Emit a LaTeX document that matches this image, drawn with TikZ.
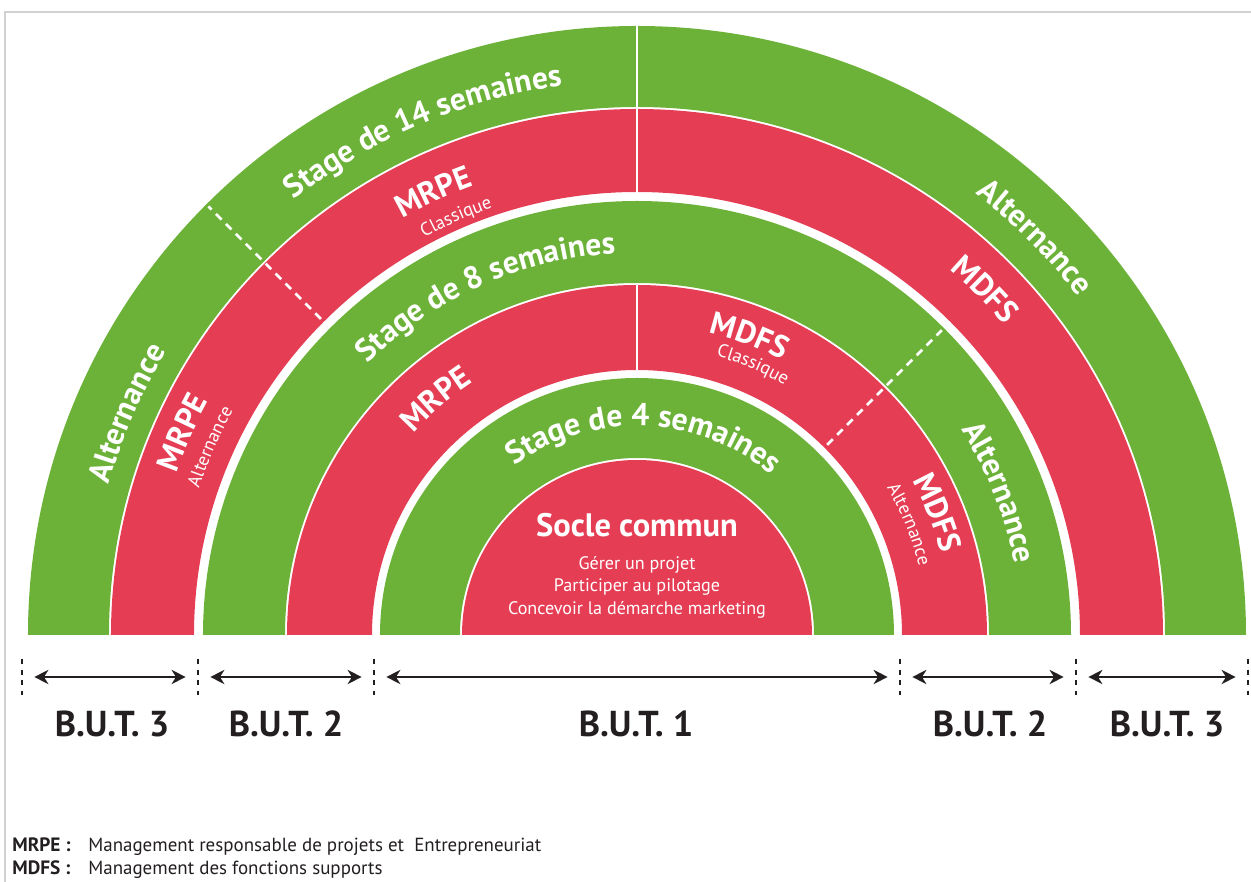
\documentclass[tikz,border=0pt]{standalone}
\usepackage{fontspec}
\setmainfont{PT Sans}
\usetikzlibrary{arrows.meta,decorations.text}

\definecolor{ringgreen}{RGB}{108,178,56}
\definecolor{ringred}{RGB}{229,62,84}
\definecolor{ink}{RGB}{35,31,32}

\newcommand{\bigtxt}{\color{white}\bfseries\fontsize{18}{21}\selectfont}
\newcommand{\smalltxt}{\color{white}\fontsize{10.5}{12}\selectfont}

% half ring: colour, inner radius, outer radius
\newcommand{\halfring}[3]{\fill[#1] (0:#3) arc[start angle=0, end angle=180, radius=#3] -- (180:#2) arc[start angle=180, end angle=0, radius=#2] -- cycle;}

% text bent along an arc: centre angle, radius, format, text
\newcommand{\arclabel}[4]{\path[decorate, decoration={text along path, text align=center, text={|#3|#4}}] ({#1+60}:#2) arc[start angle=#1+60, end angle=#1-60, radius=#2];}

\begin{document}
\begin{tikzpicture}[x=0.02cm, y=0.02cm,
    cutline/.style={white, line width=1.7pt},
    dashcut/.style={white, line width=1.6pt, dash pattern=on 4.5pt off 3.5pt},
    yeartick/.style={ink, line width=1.6pt, dash pattern=on 3pt off 3pt},
    yearspan/.style={ink, line width=1.4pt, {Stealth[length=8pt,width=8pt,inset=2.5pt]}-{Stealth[length=8pt,width=8pt,inset=2.5pt]}, shorten <=7pt, shorten >=7pt},
    yearlabel/.style={ink, font=\bfseries\fontsize{20.5}{24}\selectfont, anchor=base},
    socleline/.style={white, font=\fontsize{10.3}{12}\selectfont, anchor=base},
    keyword/.style={ink, font=\bfseries\fontsize{11}{13}\selectfont, anchor=base west, inner sep=0pt},
    meaning/.style={ink, font=\fontsize{10.8}{13}\selectfont, anchor=base west, inner sep=0pt}]
    \useasboundingbox (-637,-247) rectangle (614,635);
    \draw[black!18, line width=0.8pt] (-632,-247) -- (-632,623) -- (614,623);

    % Rings, outside in
    \halfring{ringgreen}{528}{609}
    \halfring{ringred}{443}{526}
    \halfring{ringgreen}{352}{434}
    \halfring{ringred}{265}{350}
    \halfring{ringgreen}{177}{257}
    \fill[ringred] (0:175) arc[start angle=0, end angle=180, radius=175] -- cycle;

    % Splits between the tracks
    \draw[cutline] (90:440) -- (90:612);
    \draw[cutline] (90:262) -- (90:350);
    \draw[dashcut] (135:447) -- (135:606);
    \draw[dashcut] (45:269) -- (45:431);

    % Outer green ring
    \arclabel{113}{554}{\bigtxt}{Stage de 14 semaines}
    \arclabel{156.5}{549}{\bigtxt}{Alternance}
    \arclabel{45}{556}{\bigtxt}{Alternance}

    % Outer red ring
    \arclabel{114.7}{478}{\bigtxt}{MRPE}
    \arclabel{113.4}{451}{\smalltxt}{Classique}
    \arclabel{156}{488}{\bigtxt}{MRPE}
    \arclabel{156.2}{462}{\smalltxt}{Alternance}
    \arclabel{44.8}{481}{\bigtxt}{MDFS}

    % Middle green ring
    \arclabel{114}{382}{\bigtxt}{Stage de 8 semaines}
    \arclabel{21.5}{384}{\bigtxt}{Alternance}

    % Middle red ring
    \arclabel{130.5}{301}{\bigtxt}{MRPE}
    \arclabel{69.4}{311}{\bigtxt}{MDFS}
    \arclabel{66.8}{290}{\smalltxt}{Classique}
    \arclabel{22.1}{315}{\bigtxt}{MDFS}
    \arclabel{22.1}{290}{\smalltxt}{Alternance}

    % Inner green ring
    \arclabel{88}{209}{\bigtxt}{Stage de 4 semaines}

    % Common core
    \node[white, font=\bfseries\fontsize{18.5}{22}\selectfont, anchor=base] (socle) at (0,98) {Socle commun};
    \node[socleline] (core1) at (0,65) {Gérer un projet};
    \node[socleline] (core2) at (0,43) {Participer au pilotage};
    \node[socleline] (core3) at (0,20) {Concevoir la démarche marketing};

    % Years
    \coordinate (k0) at (-615,-42);
    \coordinate (k1) at (-439,-42);
    \coordinate (k2) at (-263,-42);
    \coordinate (k3) at (263,-42);
    \coordinate (k4) at (439,-42);
    \coordinate (k5) at (611,-42);
    \foreach \k in {k0,k1,k2,k3,k4,k5}
        \draw[yeartick] (\k) ++(0,18) -- ++(0,-36);
    \draw[yearspan] (k0) -- (k1);
    \draw[yearspan] (k1) -- (k2);
    \draw[yearspan] (k2) -- (k3);
    \draw[yearspan] (k3) -- (k4);
    \draw[yearspan] (k4) -- (k5);
    \node[yearlabel] (but3l) at (-525,-102) {B.U.T. 3};
    \node[yearlabel] (but2l) at (-351,-102) {B.U.T. 2};
    \node[yearlabel] (but1) at (-1,-102) {B.U.T. 1};
    \node[yearlabel] (but2r) at (353,-102) {B.U.T. 2};
    \node[yearlabel] (but3r) at (530,-102) {B.U.T. 3};

    % Legend
    \node[keyword] (keyA) at (-625,-217) {MRPE\ :};
    \node[meaning] (meanA) at (-549,-217) {Management responsable de projets et\ \ Entrepreneuriat};
    \node[keyword] (keyB) at (-625,-240) {MDFS\ :};
    \node[meaning] (meanB) at (-549,-240) {Management des fonctions supports};
\end{tikzpicture}
\end{document}
